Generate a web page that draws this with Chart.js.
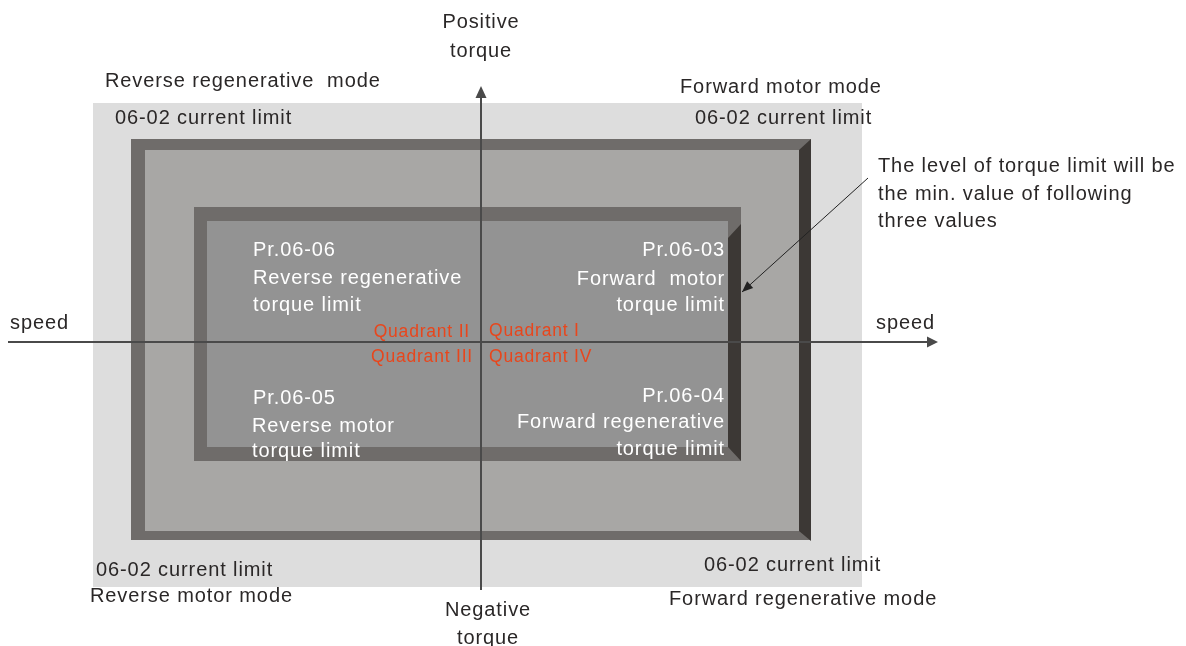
<!DOCTYPE html>
<html lang="en">
<head>
<meta charset="UTF-8" />
<title>Torque limit quadrants</title>
<script src="https://cdn.jsdelivr.net/npm/chart.js"></script>
<style>
  html, body { margin: 0; padding: 0; background: #fff; }
  #wrap { width: 1186px; height: 646px; }
</style>
</head>
<body>
<div id="wrap"><canvas id="quadrantes"></canvas></div>

<script>
  // values in axis units: speed on x, torque on y, 0/0 where the two axes cross
  var speedAxis = [-473, 457];
  var torqueAxis = [-248, 256];
  var modeZoneSpeed = [-388, 381];
  var modeZoneTorque = [-245, 239];
  var currentLimitSpeed = [-350, 330];
  var currentLimitTorque = [-198, 203];
  var torqueLimitSpeed = [-287, 260];
  var torqueLimitTorque = [-119, 135];
  var pointerFrom = [387, 164];
  var pointerTo = [261, 50];
  var quadrantNames = ["Quadrant I", "Quadrant II", "Quadrant III", "Quadrant IV"];

  // text placement (axis units), colours and frame styles
  var dark = "#2a2727";
  var notes = [
    ["Positive", 0, 320, "center", dark],
    ["torque", 0, 291, "center", dark],
    ["Reverse regenerative  mode", -376, 261, "left", dark],
    ["Forward motor mode", 199, 255, "left", dark],
    ["06-02 current limit", -366, 224, "left", dark],
    ["06-02 current limit", 214, 224, "left", dark],
    ["The level of torque limit will be", 397, 176, "left", dark],
    ["the min. value of following", 397, 148, "left", dark],
    ["three values", 397, 121, "left", dark],
    ["Pr.06-06", -228, 92, "left", "#fff"],
    ["Reverse regenerative", -228, 64, "left", "#fff"],
    ["torque limit", -228, 37, "left", "#fff"],
    ["Pr.06-03", 244, 92, "right", "#fff"],
    ["Forward  motor", 244, 63, "right", "#fff"],
    ["torque limit", 244, 37, "right", "#fff"],
    ["speed", -471, 19, "left", dark],
    ["speed", 395, 19, "left", dark],
    ["Pr.06-05", -228, -56, "left", "#fff"],
    ["Reverse motor", -229, -84, "left", "#fff"],
    ["torque limit", -229, -109, "left", "#fff"],
    ["Pr.06-04", 244, -54, "right", "#fff"],
    ["Forward regenerative", 244, -80, "right", "#fff"],
    ["torque limit", 244, -107, "right", "#fff"],
    ["06-02 current limit", -385, -228, "left", dark],
    ["Reverse motor mode", -391, -254, "left", dark],
    ["06-02 current limit", 223, -223, "left", dark],
    ["Forward regenerative mode", 188, -257, "left", dark],
    ["Negative", 7, -268, "center", dark],
    ["torque", 7, -296, "center", dark]
  ];
  var quadrantSpots = [[8, 11, "left"], [-11, 10, "right"], [-8, -15, "right"], [8, -15, "left"]];

  var currentFrame = { edge: "#6f6c6a", fill: "#a8a7a5", shade: "#3c3835", l: 14, t: 11, r: 12, b: 9, shadeTop: 0, shadeBottom: 1 };
  var torqueFrame = { edge: "#6f6c6a", fill: "#939393", shade: "#3c3835", l: 13, t: 14, r: 13, b: 14, shadeTop: 17, shadeBottom: 0 };

  function desenharMoldura(ctx, px, py, xs, ys, st) {
    var L = px(xs[0]), R = px(xs[1]), T = py(ys[1]), B = py(ys[0]);
    ctx.fillStyle = st.edge;
    ctx.fillRect(L, T, R - L, B - T);
    ctx.fillStyle = st.fill;
    ctx.fillRect(L + st.l, T + st.t, R - L - st.l - st.r, B - T - st.t - st.b);
    // dark right side with bevelled ends
    ctx.fillStyle = st.shade;
    ctx.beginPath();
    ctx.moveTo(R - st.r, T + st.shadeTop + st.t);
    ctx.lineTo(R, T + st.shadeTop);
    ctx.lineTo(R, B + st.shadeBottom);
    ctx.lineTo(R - st.r, B - st.b);
    ctx.closePath();
    ctx.fill();
  }

  function seta(ctx, x0, y0, x1, y1, len, half) {
    var a = Math.atan2(y1 - y0, x1 - x0);
    ctx.beginPath();
    ctx.moveTo(x1, y1);
    ctx.lineTo(x1 - len * Math.cos(a) + half * Math.sin(a), y1 - len * Math.sin(a) - half * Math.cos(a));
    ctx.lineTo(x1 - len * Math.cos(a) - half * Math.sin(a), y1 - len * Math.sin(a) + half * Math.cos(a));
    ctx.closePath();
    ctx.fill();
  }

  var diagramaPlugin = {
    id: "diagrama",
    beforeDatasetsDraw: function (chart) {
      var ctx = chart.ctx;
      var px = function (v) { return chart.scales.x.getPixelForValue(v); };
      var py = function (v) { return chart.scales.y.getPixelForValue(v); };
      ctx.save();
      ctx.fillStyle = "#dddddd";
      ctx.fillRect(px(modeZoneSpeed[0]), py(modeZoneTorque[1]),
        px(modeZoneSpeed[1]) - px(modeZoneSpeed[0]), py(modeZoneTorque[0]) - py(modeZoneTorque[1]));
      desenharMoldura(ctx, px, py, currentLimitSpeed, currentLimitTorque, currentFrame);
      desenharMoldura(ctx, px, py, torqueLimitSpeed, torqueLimitTorque, torqueFrame);
      ctx.restore();
    },
    afterDatasetsDraw: function (chart) {
      var ctx = chart.ctx;
      var px = function (v) { return chart.scales.x.getPixelForValue(v); };
      var py = function (v) { return chart.scales.y.getPixelForValue(v); };
      ctx.save();
      ctx.fillStyle = "#4a4a4a";
      seta(ctx, px(speedAxis[0]), py(0), px(speedAxis[1]), py(0), 11, 5.5);
      seta(ctx, px(0), py(torqueAxis[0]), px(0), py(torqueAxis[1]), 12, 5.5);
      ctx.fillStyle = "#222";
      seta(ctx, px(pointerFrom[0]), py(pointerFrom[1]), px(pointerTo[0]), py(pointerTo[1]), 11, 4.5);

      ctx.font = '20px "Liberation Sans", Arial, sans-serif';
      ctx.letterSpacing = "0.9px";
      ctx.textBaseline = "middle";
      for (var i = 0; i < notes.length; i++) {
        var n = notes[i];
        ctx.textAlign = n[3];
        ctx.fillStyle = n[4];
        ctx.fillText(n[0], px(n[1]), py(n[2]));
      }
      ctx.font = '17.5px "Liberation Sans", Arial, sans-serif';
      ctx.letterSpacing = "0.8px";
      ctx.fillStyle = "#e8461c";
      for (var q = 0; q < quadrantNames.length; q++) {
        ctx.textAlign = quadrantSpots[q][2];
        ctx.fillText(quadrantNames[q], px(quadrantSpots[q][0]), py(quadrantSpots[q][1]));
      }
      ctx.restore();
    }
  };

  new Chart(quadrantes, {
    type: "scatter",
    data: {
      datasets: [
        {
          label: "speed",
          data: [{ x: speedAxis[0], y: 0 }, { x: speedAxis[1] - 6, y: 0 }],
          showLine: true,
          borderColor: "#4a4a4a",
          borderWidth: 2,
          pointRadius: 0,
        },
        {
          label: "torque",
          data: [{ x: 0, y: torqueAxis[0] }, { x: 0, y: torqueAxis[1] - 6 }],
          showLine: true,
          borderColor: "#4a4a4a",
          borderWidth: 2,
          pointRadius: 0,
        },
        {
          label: "pointer",
          data: [{ x: pointerFrom[0], y: pointerFrom[1] }, { x: pointerTo[0], y: pointerTo[1] }],
          showLine: true,
          borderColor: "#222",
          borderWidth: 1,
          pointRadius: 0,
        },
      ],
    },
    options: {
      responsive: true,
      maintainAspectRatio: false,
      animation: false,
      events: [],
      layout: { padding: 0 },
      plugins: {
        legend: { display: false },
        tooltip: { enabled: false },
      },
      scales: {
        x: { type: "linear", min: -481, max: 705, display: false },
        y: { type: "linear", min: -304, max: 342, display: false },
      },
    },
    plugins: [diagramaPlugin],
  });
</script>
</body>
</html>
